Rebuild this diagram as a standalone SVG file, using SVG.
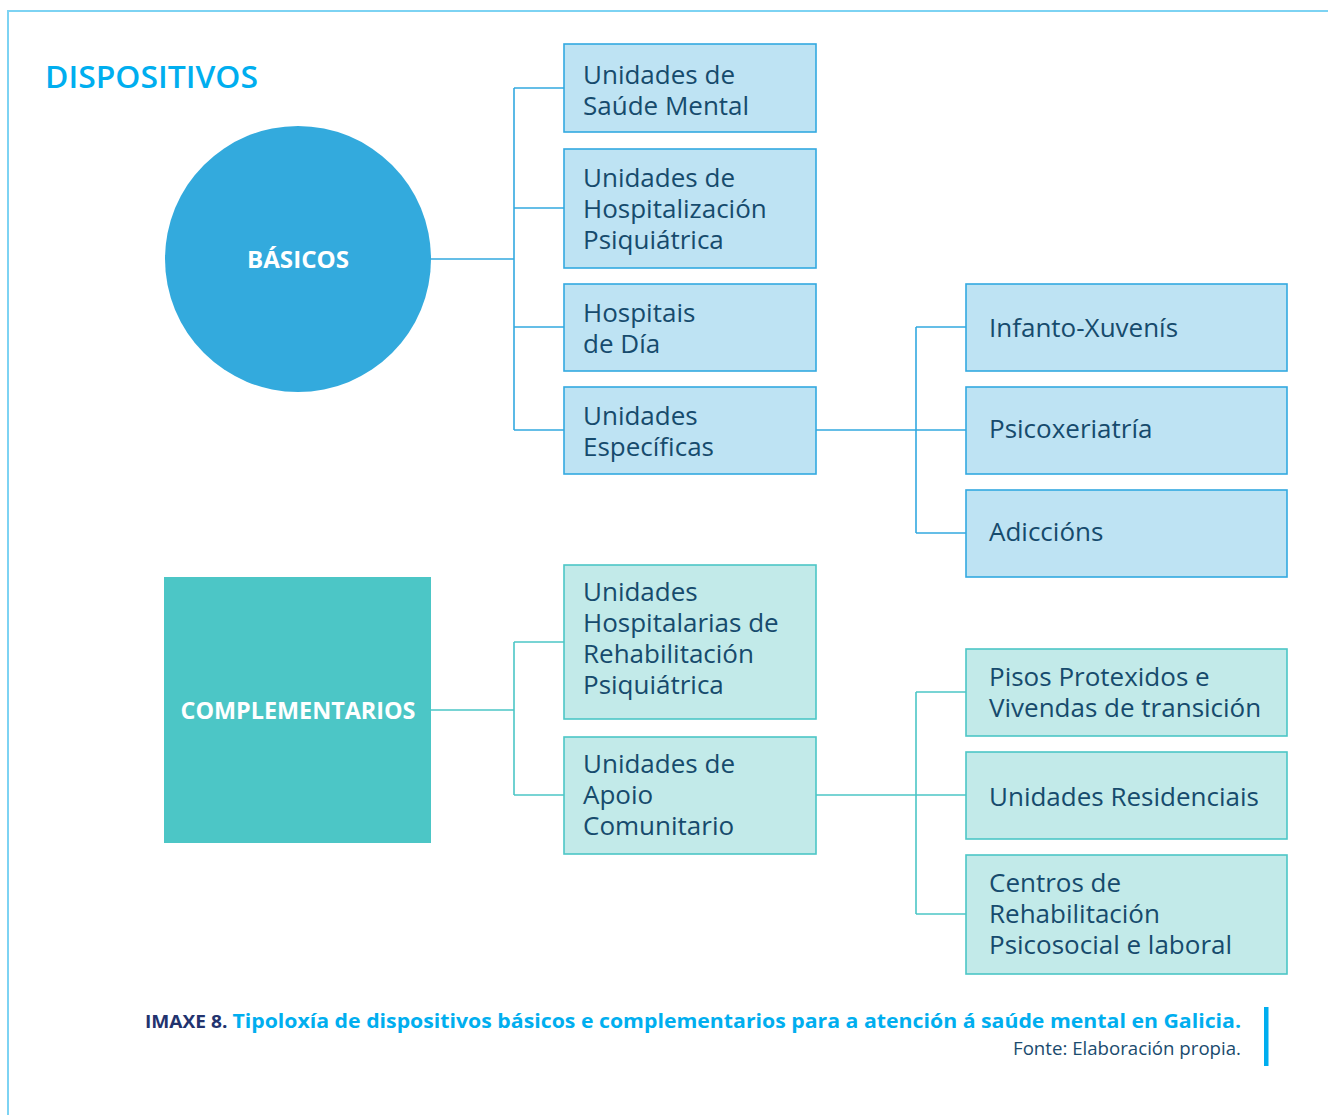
<svg xmlns="http://www.w3.org/2000/svg" width="1328" height="1115" viewBox="0 0 1328 1115">
<style>
.frame{fill:none;stroke:#7dd3f3;stroke-width:2}
.bb{fill:#bee3f3;stroke:#33a9e0;stroke-width:1.6}
.tb{fill:#c2eae9;stroke:#4cc6c6;stroke-width:1.6}
.lt{font-family:"Open Sans","Noto Sans",sans-serif;font-size:26px;fill:#164b6d}
.cb{fill:none;stroke:#33a9e0;stroke-width:1.6}
.ct{fill:none;stroke:#4cc6c6;stroke-width:1.6}
.big{font-family:"Open Sans","Noto Sans",sans-serif;font-weight:700;fill:#fff;text-anchor:middle}
</style>
<rect width="1328" height="1115" fill="#fff"/>
<path class="frame" d="M8,1115 V11 H1328"/>
<text x="45" y="88" font-family="'Open Sans','Noto Sans',sans-serif" font-size="31" font-weight="600" fill="#00aeef" textLength="213" lengthAdjust="spacingAndGlyphs">DISPOSITIVOS</text>

<g id="connectors">
  <path class="cb" d="M431,259 H514 M514,88 V430 M514,88 H564 M514,208 H564 M514,327 H564 M514,430 H564"/>
  <path class="cb" d="M816,430 H966 M916,327 V533 M916,327 H966 M916,533 H966"/>
  <path class="ct" d="M431,710 H514 M514,642 V795 M514,642 H564 M514,795 H564"/>
  <path class="ct" d="M816,795 H966 M916,692 V914 M916,692 H966 M916,914 H966"/>
</g>

<g id="basicos">
  <circle cx="298" cy="259" r="133" fill="#33aadd"/>
  <text class="big" x="298" y="268" font-size="23" textLength="102" lengthAdjust="spacingAndGlyphs">BÁSICOS</text>
</g>
<g id="complementarios">
  <rect x="164" y="577" width="267" height="266" fill="#4cc6c6"/>
  <text class="big" x="298" y="719" font-size="23" textLength="235" lengthAdjust="spacingAndGlyphs">COMPLEMENTARIOS</text>
</g>

<g id="usm"><rect class="bb" x="564" y="44" width="252" height="88"/>
<text class="lt" x="583" y="84">Unidades de</text><text class="lt" x="583" y="115">Saúde Mental</text></g>
<g id="uhp"><rect class="bb" x="564" y="149" width="252" height="119"/>
<text class="lt" x="583" y="187">Unidades de</text><text class="lt" x="583" y="218">Hospitalización</text><text class="lt" x="583" y="249">Psiquiátrica</text></g>
<g id="hd"><rect class="bb" x="564" y="284" width="252" height="87"/>
<text class="lt" x="583" y="322">Hospitais</text><text class="lt" x="583" y="353">de Día</text></g>
<g id="ue"><rect class="bb" x="564" y="387" width="252" height="87"/>
<text class="lt" x="583" y="425">Unidades</text><text class="lt" x="583" y="456">Específicas</text></g>
<g id="ix"><rect class="bb" x="966" y="284" width="321" height="87"/>
<text class="lt" x="989" y="337">Infanto-Xuvenís</text></g>
<g id="px"><rect class="bb" x="966" y="387" width="321" height="87"/>
<text class="lt" x="989" y="438">Psicoxeriatría</text></g>
<g id="ad"><rect class="bb" x="966" y="490" width="321" height="87"/>
<text class="lt" x="989" y="541">Adiccións</text></g>

<g id="uhrp"><rect class="tb" x="564" y="565" width="252" height="154"/>
<text class="lt" x="583" y="601">Unidades</text><text class="lt" x="583" y="632">Hospitalarias de</text><text class="lt" x="583" y="663">Rehabilitación</text><text class="lt" x="583" y="694">Psiquiátrica</text></g>
<g id="uac"><rect class="tb" x="564" y="737" width="252" height="117"/>
<text class="lt" x="583" y="773">Unidades de</text><text class="lt" x="583" y="804">Apoio</text><text class="lt" x="583" y="835">Comunitario</text></g>
<g id="pp"><rect class="tb" x="966" y="649" width="321" height="87"/>
<text class="lt" x="989" y="686">Pisos Protexidos e</text><text class="lt" x="989" y="717">Vivendas de transición</text></g>
<g id="ur"><rect class="tb" x="966" y="752" width="321" height="87"/>
<text class="lt" x="989" y="806">Unidades Residenciais</text></g>
<g id="crp"><rect class="tb" x="966" y="855" width="321" height="119"/>
<text class="lt" x="989" y="892">Centros de</text><text class="lt" x="989" y="923">Rehabilitación</text><text class="lt" x="989" y="954">Psicosocial e laboral</text></g>

<g id="caption">
<text x="145" y="1028" font-family="'Open Sans','Noto Sans',sans-serif" font-size="20" font-weight="700" textLength="1096" lengthAdjust="spacingAndGlyphs"><tspan fill="#22336e" font-size="18">IMAXE 8. </tspan><tspan fill="#00aeef">Tipoloxía de dispositivos básicos e complementarios para a atención á saúde mental en Galicia.</tspan></text>
<text x="1241" y="1055" text-anchor="end" font-family="'Open Sans','Noto Sans',sans-serif" font-size="18" fill="#1a4b6e" textLength="228" lengthAdjust="spacingAndGlyphs">Fonte: Elaboración propia.</text>
<rect x="1264" y="1007" width="4.5" height="59" fill="#00aeef"/>
</g>
</svg>
